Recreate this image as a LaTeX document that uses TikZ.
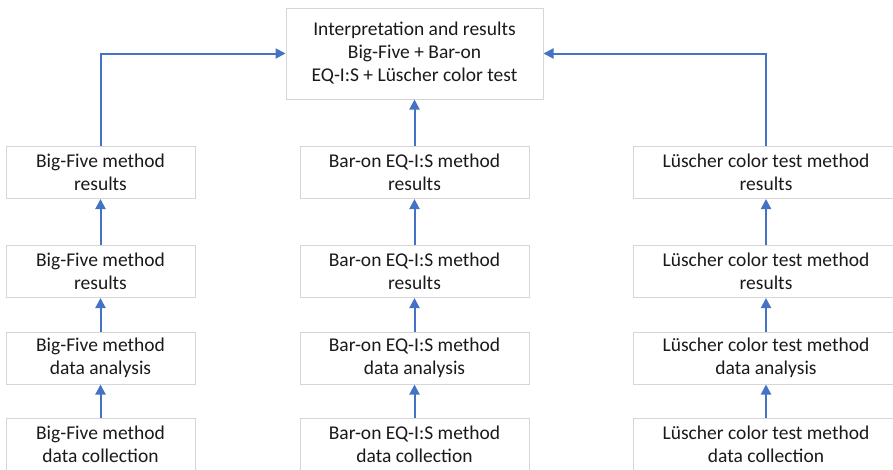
\documentclass[tikz,border=0pt]{standalone}
\usepackage{fontspec}
\setmainfont{Carlito}
\usetikzlibrary{arrows.meta}
\definecolor{boxgray}{HTML}{D6D6D6}
\definecolor{arrowblue}{HTML}{4472C4}
\definecolor{textgray}{HTML}{1A1A1A}

\begin{document}
\begin{tikzpicture}[
            x = 1pt, y = -1pt, % pixel-like units
            > = {Triangle[length = 10pt, width = 10pt]}, % arrow head style
            semithick
        ]

        \tikzset{
            box/.style = {
                draw = boxgray,
                line width = 1pt,
                fill = white,
                align = center,
                inner sep = 0pt,
                text = textgray,
                font = \fontsize{19.5}{23}\selectfont
            },
            bigfive/.style = {box, minimum width = 189pt, minimum height = 52pt},
            baron/.style = {box, minimum width = 229pt, minimum height = 52pt},
            luscher/.style = {box, minimum width = 266pt, minimum height = 52pt},
            link/.style = {->, draw = arrowblue, line width = 2pt}
        }

        \useasboundingbox (0,0) rectangle (893,469);
        \clip (0,0) rectangle (893,469);

        % top box
        \node[box, minimum width = 257pt, minimum height = 91pt] (top) at (414.5,53.5)
            {Interpretation and results\\Big-Five + Bar-on\\EQ-I:S + Lüscher color test};

        % Big-Five column
        \node[bigfive] (bf1) at (100.5,172.5) {Big-Five method\\results};
        \node[bigfive] (bf2) at (100.5,271.5) {Big-Five method\\results};
        \node[bigfive] (bf3) at (100.5,358) {Big-Five method\\data analysis};
        \node[bigfive] (bf4) at (100.5,444) {Big-Five method\\data collection};

        % Bar-on column
        \node[baron] (bo1) at (414.5,172.5) {Bar-on EQ-I:S method\\results};
        \node[baron] (bo2) at (414.5,271.5) {Bar-on EQ-I:S method\\results};
        \node[baron] (bo3) at (414.5,358) {Bar-on EQ-I:S method\\data analysis};
        \node[baron] (bo4) at (414.5,444) {Bar-on EQ-I:S method\\data collection};

        % Luscher column
        \node[luscher] (lu1) at (766,172.5) {Lüscher color test method\\results};
        \node[luscher] (lu2) at (766,271.5) {Lüscher color test method\\results};
        \node[luscher] (lu3) at (766,358) {Lüscher color test method\\data analysis};
        \node[luscher] (lu4) at (766,444) {Lüscher color test method\\data collection};

        \draw[link] (bf4) -- (bf3);
        \draw[link] (bf3) -- (bf2);
        \draw[link] (bf2) -- (bf1);
        \draw[link] (bf1.north) |- (top.west);

        \draw[link] (bo4) -- (bo3);
        \draw[link] (bo3) -- (bo2);
        \draw[link] (bo2) -- (bo1);
        \draw[link] (bo1) -- (top);

        \draw[link] (lu4) -- (lu3);
        \draw[link] (lu3) -- (lu2);
        \draw[link] (lu2) -- (lu1);
        \draw[link] (lu1.north) |- (top.east);

  \end{tikzpicture}
\end{document}
